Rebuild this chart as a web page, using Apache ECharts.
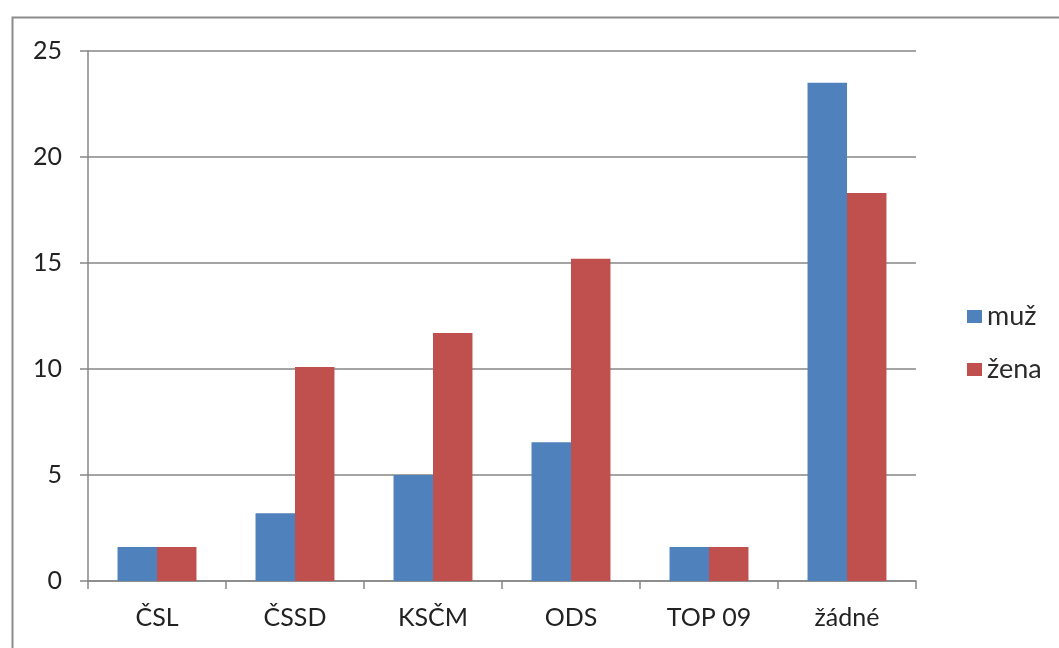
<!DOCTYPE html>
<html>
<head>
<meta charset="utf-8">
<script src="https://cdn.jsdelivr.net/npm/echarts@6/dist/echarts.min.js"></script>
<style>
html, body { margin: 0; padding: 0; background: #fff; }
#chart { width: 1059px; height: 648px; }
</style>
</head>
<body>
<div id="chart"></div>
<script>
// strany (kategorie) a hodnoty pro obě pohlaví
var categories = ['ČSL', 'ČSSD', 'KSČM', 'ODS', 'TOP 09', 'žádné'];
var seriesNames = ['muž', 'žena'];
var muzData = [1.6, 3.2, 5.0, 6.55, 1.6, 23.5];
var zenaData = [1.6, 10.1, 11.7, 15.2, 1.6, 18.3];
var yTicks = [0, 5, 10, 15, 20, 25];

var colors = ['#4F81BD', '#C0504D'];
var font = 'Lato, "Open Sans", sans-serif';

var myChart = echarts.init(document.getElementById('chart'));

var option = {
	color: colors,
	animation: false,
	// rámeček kolem celého grafu
	graphic: [{
		type: 'rect',
		shape: { x: 12.5, y: 17.5, width: 1100, height: 700 },
		style: { fill: 'none', stroke: '#8c8c8c', lineWidth: 2 }
	}],
	grid: {
		left: 88,
		right: 143,
		top: 51,
		bottom: 67
	},
	legend: {
		data: seriesNames,
		orient: 'vertical',
		left: 962,
		top: 298,
		itemWidth: 15,
		itemHeight: 13,
		itemGap: 26,
		icon: 'rect',
		textStyle: { fontFamily: font, fontSize: 27, color: '#2b2b2b', padding: [0, 0, 0, 0] }
	},
	xAxis: [{
		type: 'category',
		data: categories,
		axisLine: { lineStyle: { color: '#868686', width: 1.5 } },
		axisTick: { show: true, length: 8, lineStyle: { color: '#868686', width: 1.5 } },
		axisLabel: { fontFamily: font, fontSize: 25, color: '#222', margin: 24 }
	}],
	yAxis: [{
		type: 'value',
		min: yTicks[0],
		max: yTicks[yTicks.length - 1],
		interval: 5,
		axisLine: { show: true, lineStyle: { color: '#868686', width: 1.5 } },
		axisTick: { show: true, length: 8, lineStyle: { color: '#868686', width: 1.5 } },
		splitLine: { lineStyle: { color: '#868686', width: 1.5 } },
		axisLabel: { fontFamily: font, fontSize: 25, color: '#222', margin: 26 }
	}],
	series: [{
		name: seriesNames[0],
		type: 'bar',
		data: muzData,
		barWidth: '28.6%',
		barGap: '0%',
		barCategoryGap: '43%'
	}, {
		name: seriesNames[1],
		type: 'bar',
		data: zenaData,
		barWidth: '28.6%',
		barGap: '0%'
	}]
};

myChart.setOption(option);
</script>
</body>
</html>
